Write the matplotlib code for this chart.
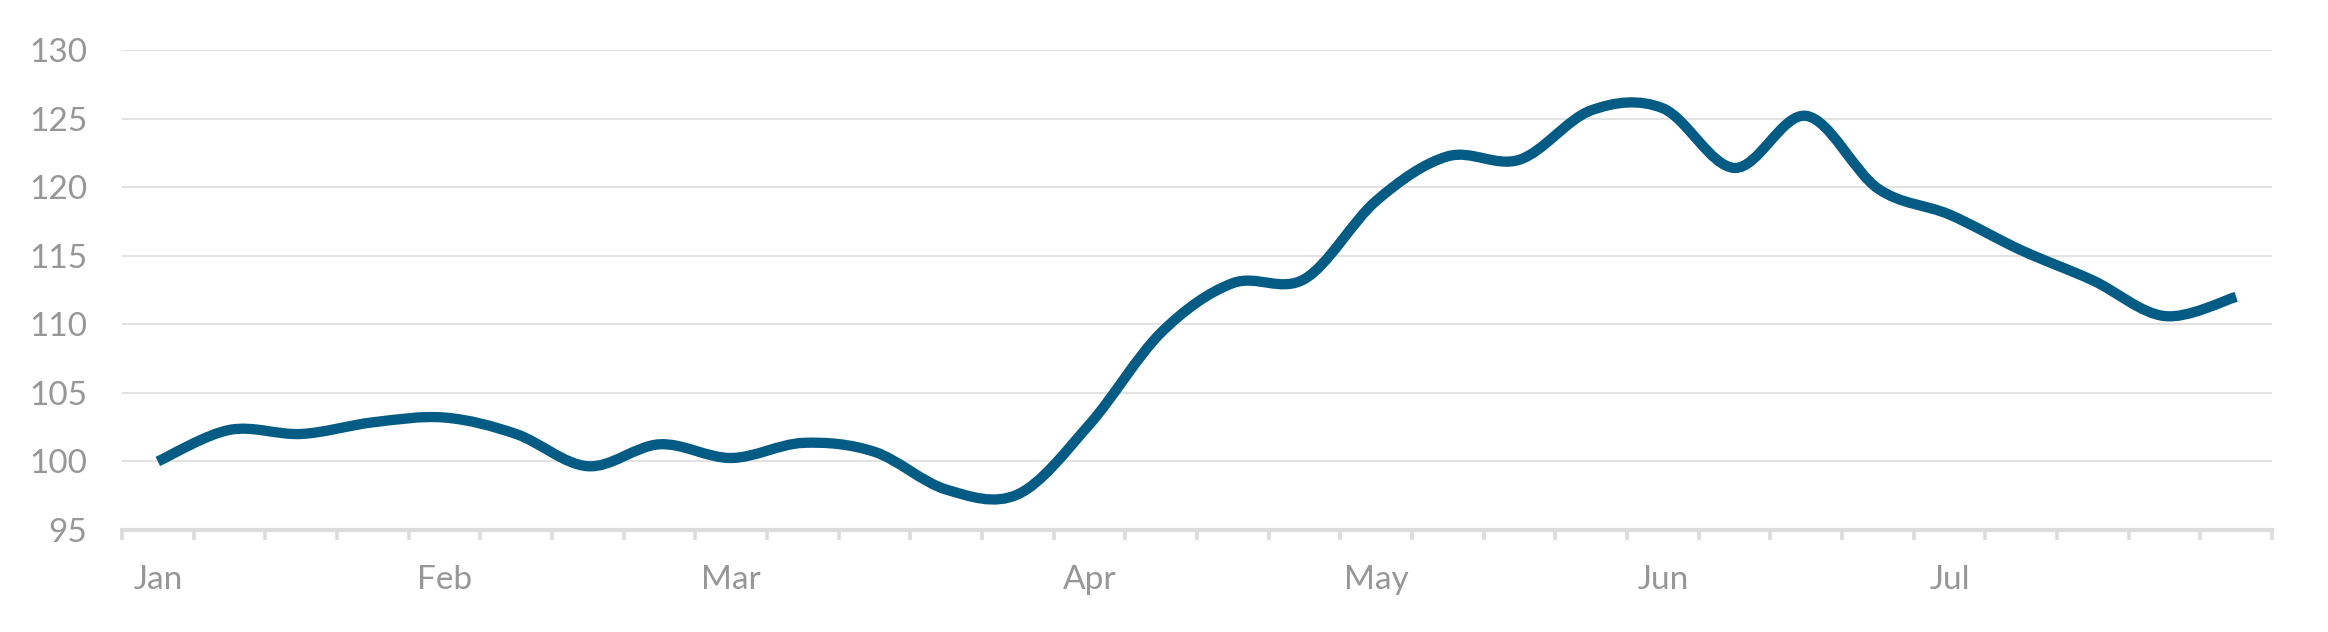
import matplotlib
matplotlib.use('Agg')
import matplotlib.pyplot as plt
from matplotlib.path import Path
from matplotlib.patches import PathPatch
from matplotlib.ticker import FixedLocator, NullFormatter

# weekly index values
values = [100.0, 102.3, 102.0, 102.85, 103.2, 102.0, 99.65, 101.25, 100.25, 101.35,
          100.7, 97.95, 97.6, 102.7, 109.4, 113.0, 113.3, 119.0, 122.25, 122.0,
          125.6, 125.75, 121.4, 125.2, 119.9, 118.0, 115.4, 113.2, 110.6, 112.0]
month_labels = ['Jan', 'Feb', 'Mar', 'Apr', 'May', 'Jun', 'Jul']
month_pos = [0, 4, 8, 13, 17, 21, 25]
y_ticks = [95, 100, 105, 110, 115, 120, 125, 130]

plt.rcParams['font.family'] = ['Lato', 'DejaVu Sans']

fig = plt.figure(figsize=(23.28, 6.32), dpi=100)
ax = fig.add_axes([122 / 2328, 1 - 530 / 632, (2272 - 122) / 2328, (530 - 50) / 632])

# smoothed line (Excel style bezier through the points)
n = len(values)
xs = list(range(n))
verts = [(xs[0], values[0])]
codes = [Path.MOVETO]
for i in range(n - 1):
    x0, y0 = xs[i], values[i]
    x1, y1 = xs[i + 1], values[i + 1]
    xp, yp = (xs[i - 1], values[i - 1]) if i > 0 else (x0, y0)
    xn, yn = (xs[i + 2], values[i + 2]) if i + 2 < n else (x1, y1)
    c1 = (x0 + (x1 - xp) / 6, y0 + (y1 - yp) / 6)
    c2 = (x1 - (xn - x0) / 6, y1 - (yn - y0) / 6)
    verts += [c1, c2, (x1, y1)]
    codes += [Path.CURVE4] * 3
ax.add_patch(PathPatch(Path(verts, codes), facecolor='none', edgecolor='#045B84',
                       linewidth=7.4, capstyle='butt', joinstyle='round', zorder=3))

ax.set_xlim(-0.5, n - 0.5)
ax.set_ylim(95, 130)

for y in y_ticks[1:]:
    ax.axhline(y, color='#E2E2E2', linewidth=1.5, zorder=1)

ax.set_yticks(y_ticks)
ax.set_xticks(month_pos)
ax.set_xticklabels(month_labels)
ax.xaxis.set_minor_locator(FixedLocator([i - 0.5 for i in range(n + 1)]))
ax.xaxis.set_minor_formatter(NullFormatter())

ax.tick_params(axis='y', length=0, pad=25, labelsize=24, colors='#979797')
ax.tick_params(axis='x', which='major', length=0, pad=25, labelsize=24, colors='#979797')
ax.tick_params(axis='x', which='minor', length=7.5, width=2.6, color='#DCDCDC')

for side in ['top', 'right', 'left']:
    ax.spines[side].set_visible(False)
ax.spines['bottom'].set_color('#DCDCDC')
ax.spines['bottom'].set_linewidth(3)
ax.spines['bottom'].set_zorder(2)

fig.savefig('out.png', dpi=100, facecolor='white')
